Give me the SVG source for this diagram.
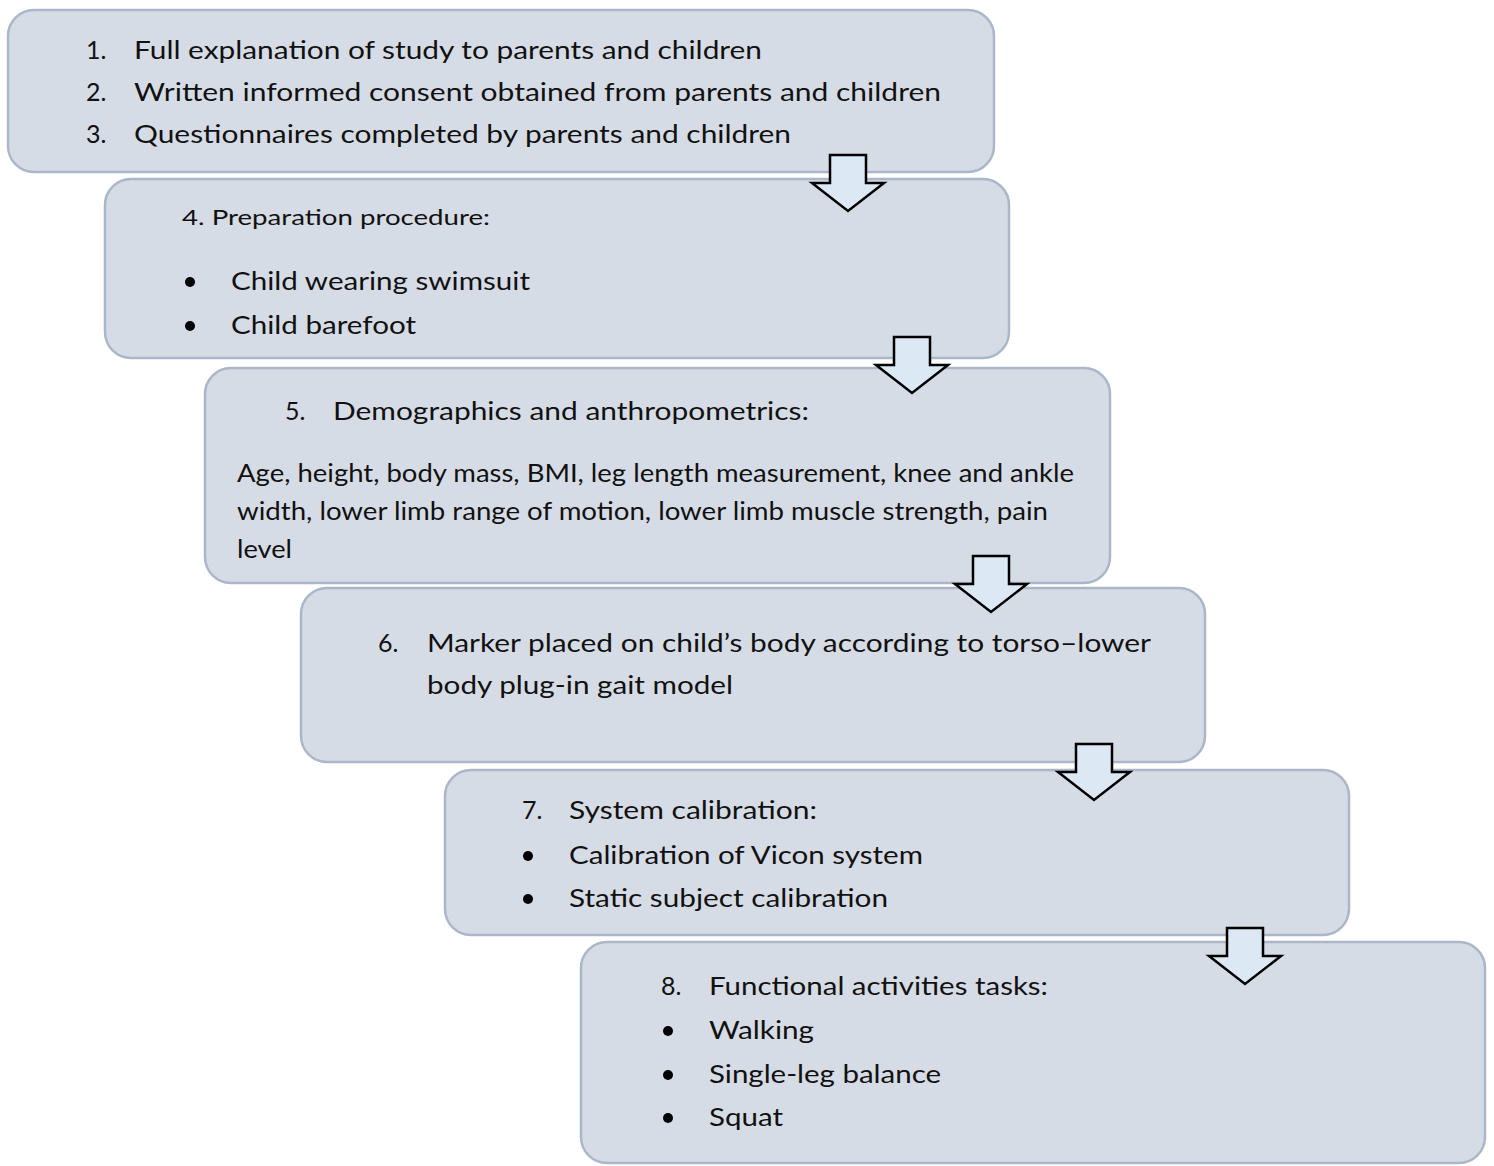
<svg xmlns="http://www.w3.org/2000/svg" width="1494" height="1166" viewBox="0 0 1494 1166">
<defs>
<style>
.box{fill:#d6dce5;stroke:#abb7c9;stroke-width:2.5}
.t{font-family:Lato,"Liberation Sans",sans-serif;font-size:25px;fill:#111}
.s{font-size:22px}
.arr{fill:#dde8f5;stroke:#000;stroke-width:2.5;stroke-linejoin:miter}
.b{fill:#000}
</style>
<path id="ar" d="M-18,0 H18 V28 H36 L0,56 L-36,28 H-18 Z"/>
</defs>
<rect width="1494" height="1166" fill="#fff"/>
<g id="n1">
<rect class="box" x="8" y="10" width="986" height="162" rx="26"/>
<text class="t" x="86" y="59">1.</text>
<text class="t" x="134" y="59" textLength="628" lengthAdjust="spacingAndGlyphs">Full explanation of study to parents and children</text>
<text class="t" x="86" y="101">2.</text>
<text class="t" x="134" y="101" textLength="807" lengthAdjust="spacingAndGlyphs">Written informed consent obtained from parents and children</text>
<text class="t" x="86" y="143">3.</text>
<text class="t" x="134" y="143" textLength="657" lengthAdjust="spacingAndGlyphs">Questionnaires completed by parents and children</text>
</g>
<g id="n2">
<rect class="box" x="105" y="179" width="904" height="179" rx="26"/>
<text class="t s" x="182" y="225" textLength="308" lengthAdjust="spacingAndGlyphs">4. Preparation procedure:</text>
<circle class="b" cx="190" cy="282" r="5"/>
<text class="t" x="231" y="290" textLength="299" lengthAdjust="spacingAndGlyphs">Child wearing swimsuit</text>
<circle class="b" cx="190" cy="326" r="5"/>
<text class="t" x="231" y="334" textLength="185" lengthAdjust="spacingAndGlyphs">Child barefoot</text>
</g>
<g id="n3">
<rect class="box" x="205" y="368" width="905" height="215" rx="26"/>
<text class="t" x="285" y="420">5.</text>
<text class="t" x="333" y="420" textLength="476" lengthAdjust="spacingAndGlyphs">Demographics and anthropometrics:</text>
<text class="t" x="237" y="482" textLength="837" lengthAdjust="spacingAndGlyphs">Age, height, body mass, BMI, leg length measurement, knee and ankle</text>
<text class="t" x="237" y="520" textLength="811" lengthAdjust="spacingAndGlyphs">width, lower limb range of motion, lower limb muscle strength, pain</text>
<text class="t" x="237" y="558" textLength="55" lengthAdjust="spacingAndGlyphs">level</text>
</g>
<g id="n4">
<rect class="box" x="301" y="588" width="904" height="174" rx="26"/>
<text class="t" x="378" y="652">6.</text>
<text class="t" x="427" y="652" textLength="724" lengthAdjust="spacingAndGlyphs">Marker placed on child’s body according to torso–lower</text>
<text class="t" x="427" y="694" textLength="306" lengthAdjust="spacingAndGlyphs">body plug-in gait model</text>
</g>
<g id="n5">
<rect class="box" x="445" y="770" width="904" height="165" rx="26"/>
<text class="t" x="522" y="819">7.</text>
<text class="t" x="569" y="819" textLength="248" lengthAdjust="spacingAndGlyphs">System calibration:</text>
<circle class="b" cx="528" cy="856" r="5"/>
<text class="t" x="569" y="864" textLength="354" lengthAdjust="spacingAndGlyphs">Calibration of Vicon system</text>
<circle class="b" cx="528" cy="899" r="5"/>
<text class="t" x="569" y="907" textLength="319" lengthAdjust="spacingAndGlyphs">Static subject calibration</text>
</g>
<g id="n6">
<rect class="box" x="581" y="942" width="904" height="221" rx="26"/>
<text class="t" x="661" y="995">8.</text>
<text class="t" x="709" y="995" textLength="339" lengthAdjust="spacingAndGlyphs">Functional activities tasks:</text>
<circle class="b" cx="668" cy="1031" r="5"/>
<text class="t" x="709" y="1039" textLength="105" lengthAdjust="spacingAndGlyphs">Walking</text>
<circle class="b" cx="668" cy="1075" r="5"/>
<text class="t" x="709" y="1083" textLength="232" lengthAdjust="spacingAndGlyphs">Single-leg balance</text>
<circle class="b" cx="668" cy="1118" r="5"/>
<text class="t" x="709" y="1126" textLength="74" lengthAdjust="spacingAndGlyphs">Squat</text>
</g>
<g id="connectors">
<use href="#ar" class="arr" x="848" y="155"/>
<use href="#ar" class="arr" x="912" y="337"/>
<use href="#ar" class="arr" x="991" y="556"/>
<use href="#ar" class="arr" x="1094" y="744"/>
<use href="#ar" class="arr" x="1245" y="928"/>
</g>
</svg>
